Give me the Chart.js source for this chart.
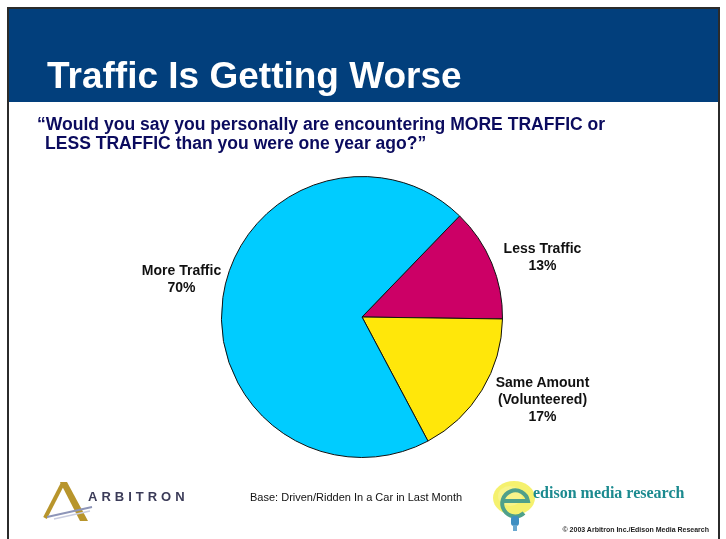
<!DOCTYPE html>
<html lang="en">
<head>
<meta charset="UTF-8">
<title>Traffic Is Getting Worse</title>
<script src="https://cdn.jsdelivr.net/npm/chart.js@4"></script>
<style>
  html, body { margin: 0; padding: 0; background: #fff; }
  body { width: 726px; height: 539px; position: relative; overflow: hidden; font-family: "Liberation Sans", Arial, sans-serif; }
  .slide { position: absolute; left: 7px; top: 7px; width: 713px; height: 600px; border: 2px solid #2b2b2b; box-sizing: border-box; background: #fff; }
  .header { position: absolute; left: 0; top: 0; right: 0; height: 93px; background: #023f7c; }
  #chart { position: absolute; left: 0; top: 0; }
  .txt { position: absolute; white-space: nowrap; }
  .title { left: 47px; top: 57px; font-size: 37px; line-height: 37px; font-weight: bold; color: #fff; }
  .question { font-size: 18px; line-height: 19px; font-weight: bold; color: #0b0b5e; transform: scaleX(0.975); transform-origin: left center; }
  .plabel { position: absolute; white-space: nowrap; font-size: 14px; line-height: 17px; font-weight: bold; color: #111; text-align: center; transform: translate(-50%, -50%); }
  .base { left: 250px; top: 491px; font-size: 11px; line-height: 13px; color: #111; }
  .copy { right: 17px; top: 525px; font-size: 7px; line-height: 9px; font-weight: bold; color: #222; }
  .arbitron { left: 88px; top: 489px; font-size: 13px; line-height: 15px; letter-spacing: 4px; color: #3b3b58; font-weight: bold; }
  .edison { left: 533px; top: 484px; font-family: "Liberation Serif", "Times New Roman", serif; font-size: 16px; line-height: 18px; font-weight: bold; color: #1b8a8f; }
  svg { position: absolute; }
</style>
</head>
<body>
<div class="slide"><div class="header"></div></div>
<canvas id="chart" width="726" height="539"></canvas>

<div class="txt title">Traffic Is Getting Worse</div>
<div class="txt question" style="left:37px; top:115px;">“Would you say you personally are encountering MORE TRAFFIC or</div>
<div class="txt question" style="left:45px; top:134px;">LESS TRAFFIC than you were one year ago?”</div>

<svg style="left:40px; top:478px;" width="60" height="50" viewBox="0 0 60 50">
  <polygon points="20,4 27,4 48,43 40,43" fill="#b8952c"/>
  <line x1="23" y1="5" x2="5" y2="40" stroke="#b8952c" stroke-width="4"/>
  <line x1="7" y1="39" x2="52" y2="29" stroke="#8d95b8" stroke-width="2"/>
  <line x1="14" y1="41" x2="50" y2="33" stroke="#c9cde0" stroke-width="1.5"/>
</svg>
<div class="txt arbitron">ARBITRON</div>

<div class="txt base">Base: Driven/Ridden In a Car in Last Month</div>

<svg style="left:492px; top:480px;" width="46" height="54" viewBox="0 0 46 54">
  <ellipse cx="22" cy="18" rx="21" ry="17" fill="#f3ee55" opacity="0.85"/>
  <ellipse cx="18" cy="16" rx="12" ry="10" fill="#f8f48a"/>
  <path d="M 10 21 L 36 21 A 13 13 0 1 0 32 33" fill="none" stroke="#4fa08a" stroke-width="4"/>
  <rect x="19" y="36" width="8" height="10" rx="3" fill="#3f8fc2"/>
  <rect x="21" y="45" width="4" height="6" fill="#6aa8d0"/>
</svg>
<div class="txt edison">edison media research</div>
<div class="txt copy">© 2003 Arbitron Inc./Edison Media Research</div>

<script>
// chart data
const categories = ['Less Traffic', ['Same Amount', '(Volunteered)'], 'More Traffic'];
const seriesValues = [13, 17, 70];
const sliceColors = ['#cc0066', '#ffe70a', '#00ccff'];

// puts each slice label next to its slice as real text
const sliceLabels = {
  id: 'sliceLabels',
  afterDraw(chart, args, opts) {
    const meta = chart.getDatasetMeta(0);
    const total = seriesValues.reduce((a, b) => a + b, 0);
    meta.data.forEach((arc, i) => {
      const { x, y, startAngle, endAngle, outerRadius } =
        arc.getProps(['x', 'y', 'startAngle', 'endAngle', 'outerRadius'], true);
      const mid = (startAngle + endAngle) / 2;
      const side = Math.cos(mid) >= 0 ? 1 : -1;
      const lx = x + side * (outerRadius + opts.gapX);
      const ly = y + Math.sin(mid) * outerRadius * opts.radialY + (opts.nudgeY[i] || 0);

      let el = document.getElementById('plabel-' + i);
      if (!el) {
        el = document.createElement('div');
        el.id = 'plabel-' + i;
        el.className = 'plabel';
        document.body.appendChild(el);
      }
      const lines = [].concat(chart.data.labels[i], Math.round(seriesValues[i] / total * 100) + '%');
      el.innerHTML = '';
      lines.forEach(t => {
        const d = document.createElement('div');
        d.textContent = t;
        el.appendChild(d);
      });
      el.style.left = lx + 'px';
      el.style.top = ly + 'px';
    });
  }
};

const ctx = document.getElementById('chart').getContext('2d');
new Chart(ctx, {
  type: 'pie',
  data: {
    labels: categories,
    datasets: [{
      data: seriesValues,
      backgroundColor: sliceColors,
      borderColor: '#111',
      borderWidth: 1
    }]
  },
  options: {
    responsive: false,
    animation: false,
    events: [],
    rotation: 44,
    layout: { padding: { left: 221, right: 223, top: 176, bottom: 81 } },
    plugins: {
      legend: { display: false },
      tooltip: { enabled: false },
      sliceLabels: { gapX: 40, radialY: 1.12, nudgeY: [0, 0, -16] }
    }
  },
  plugins: [sliceLabels]
});
</script>
</body>
</html>
